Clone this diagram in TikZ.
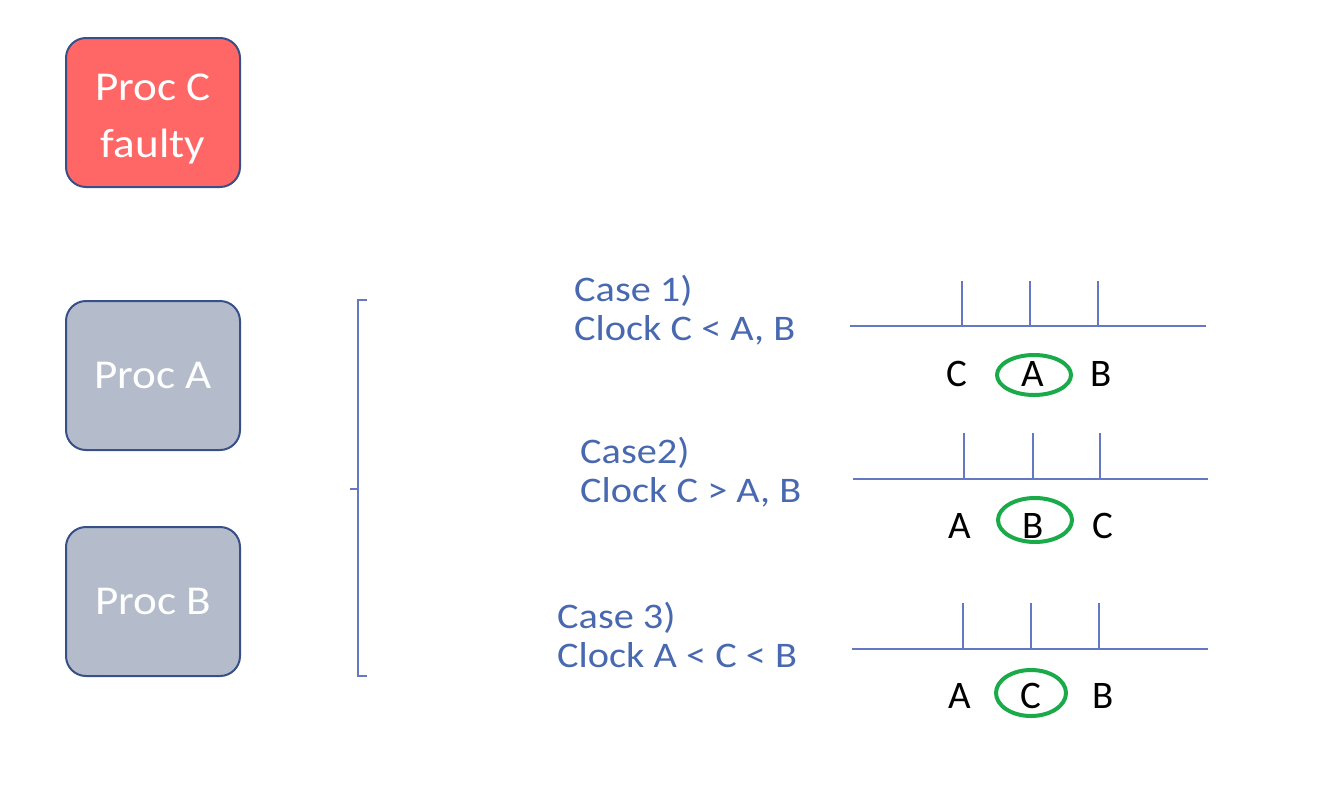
\documentclass[tikz,border=0pt]{standalone}
\usepackage{fontspec}
\setmainfont{Carlito}
\newfontfamily\boxfont[FakeStretch=1.1]{Carlito}
\newfontfamily\casefont[FakeStretch=1.12]{Carlito}
\definecolor{boxborder}{RGB}{56,80,135}
\definecolor{faultred}{RGB}{255,102,102}
\definecolor{procgray}{RGB}{180,188,204}
\definecolor{casetext}{RGB}{72,104,176}
\definecolor{lineblue}{RGB}{100,120,196}
\definecolor{circgreen}{RGB}{26,170,74}
\usetikzlibrary{shapes.geometric}
\tikzset{
  procbox/.style={draw=boxborder, line width=2pt, rounded corners=20pt, minimum width=174pt, minimum height=149pt, text=white, align=center, font=\boxfont\fontsize{41}{57}\selectfont, inner sep=0pt},
  casebox/.style={text=casetext, align=left, anchor=base west, font=\casefont\fontsize{36}{39}\selectfont, inner sep=0pt},
  tline/.style={draw=lineblue, line width=1.3pt},
  letter/.style={text=black, font=\fontsize{39}{40}\selectfont, inner sep=0pt, anchor=base},
  pick/.style={draw=circgreen, line width=4pt, ellipse, minimum width=74pt, minimum height=40pt},
}
\begin{document}
\begin{tikzpicture}[x=1pt,y=-1pt]
\useasboundingbox (0,0) rectangle (1340,790);
\node[procbox, fill=faultred] (pc) at (153,112.5) {};
\node[text=white, font=\boxfont\fontsize{41}{57}\selectfont, align=center, anchor=base, inner sep=0pt] (pct) at (153,157) {Proc C\\faulty};
\node[procbox, fill=procgray] (pa) at (153,375.5) {Proc A};
\node[procbox, fill=procgray] (pb) at (153,601.5) {Proc B};
% brace
\coordinate (bt) at (367,300);
\coordinate (bb) at (367,676);
\coordinate (bm) at (350,489);
\draw[tline] (bt) -- (358,300) -- (358,676) -- (bb);
\draw[tline] (bm) -- (358,489);
% case texts
\node[casebox] (c1) at (574,340) {Case 1)\\Clock C < A, B};
\node[casebox] (c2) at (580,502) {Case2)\\Clock C > A, B};
\node[casebox] (c3) at (557,667) {Case 3)\\Clock A < C < B};
% timeline 1
\coordinate (l1a) at (850,326); \coordinate (l1b) at (1206,326);
\draw[tline] (l1a) -- (l1b);
\foreach \x in {962,1030,1098} \draw[tline] (\x,281) -- (\x,326);
\node[pick] (e1) at (1034,375) {};
\node[letter] (t1c) at (957,386) {C};
\node[letter] (t1a) at (1033,386) {A};
\node[letter] (t1b) at (1101,386) {B};
% timeline 2
\coordinate (l2a) at (853,479); \coordinate (l2b) at (1208,479);
\draw[tline] (l2a) -- (l2b);
\foreach \x in {964,1033,1100} \draw[tline] (\x,433) -- (\x,479);
\node[pick, minimum height=44pt] (e2) at (1035,520) {};
\node[letter] (t2a) at (960,538) {A};
\node[letter] (t2b) at (1033,538) {B};
\node[letter] (t2c) at (1103,538) {C};
% timeline 3
\coordinate (l3a) at (852,649); \coordinate (l3b) at (1208,649);
\draw[tline] (l3a) -- (l3b);
\foreach \x in {963,1031,1099} \draw[tline] (\x,603) -- (\x,649);
\node[pick, minimum width=70pt, minimum height=46pt] (e3) at (1031,693) {};
\node[letter] (t3a) at (960,708) {A};
\node[letter] (t3c) at (1031,708) {C};
\node[letter] (t3b) at (1103,708) {B};
\end{tikzpicture}
\end{document}
